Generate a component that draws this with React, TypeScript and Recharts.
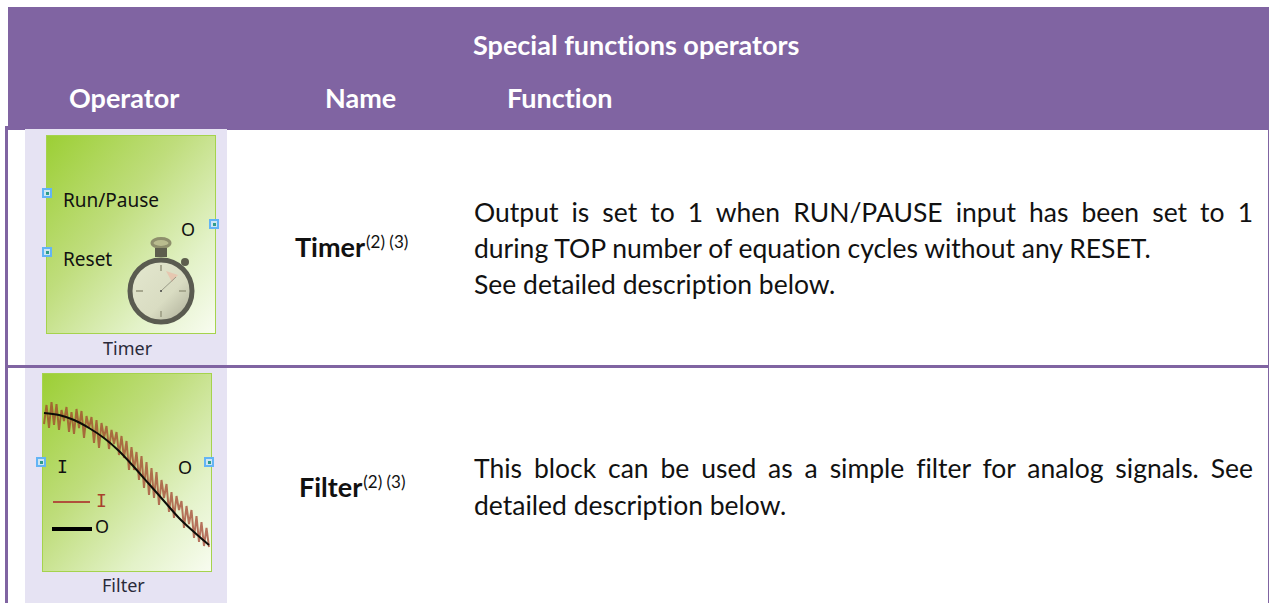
import { LineChart, Line, XAxis, YAxis } from "recharts";

const PURPLE = "#8064A2";
const LAVENDER = "#E6E3F3";
const BLOCK_BG = "linear-gradient(to bottom right, #9ccf35 0%, #bfdd7c 40%, #e3f2c8 75%, #f8fcf0 100%)";
const TEXT_FONT = "Lato, Carlito, sans-serif";
const ICON_FONT = "'Noto Sans', sans-serif";
const SERIF_I_FONT = "'DejaVu Sans Mono', monospace";

const title = "Special functions operators";
const columns = ["Operator", "Name", "Function"];
const timerLines = [
    "Output is set to 1 when RUN/PAUSE input has been set to 1",
    "during TOP number of equation cycles without any RESET.",
    "See detailed description below.",
];
const filterLines = [
    "This block can be used as a simple filter for analog signals. See",
    "detailed description below.",
];

// filter plot, height of the trace above the bottom of the block (px)
const inputSignal = [
    147, 166, 143, 169, 146, 167, 141, 161, 150, 164, 139, 159, 137, 162, 143, 160, 133,
    155, 143, 154, 128, 151, 123, 148, 133, 145, 122, 141, 127, 139, 116, 135, 113, 130,
    101, 124, 101, 119, 91, 115, 83, 109, 76, 103, 73, 99, 66, 91, 73, 87, 59, 79, 53,
    75, 61, 70, 43, 65, 47, 61, 33, 55, 29, 49, 25, 43, 24,
];
const outputSignal = [158, 156, 151, 143, 133, 120, 104, 87, 70, 53, 39, 26];
const OUTPUT_STEP = 6;

const filterData = inputSignal.map((input, i) => ({
    t: i,
    input,
    output: i % OUTPUT_STEP === 0 ? outputSignal[i / OUTPUT_STEP] : null,
}));

function Box({ x, y, w, h, style, children }: any) {
    return (
        <div style={{ position: "absolute", left: x, top: y, width: w, height: h, ...style }}>
            {children}
        </div>
    );
}

// text placed by its vertical centre
function Label({ x, cy, size, bold, color, font, children }: any) {
    return (
        <div
            style={{
                position: "absolute",
                left: x,
                top: cy - 20,
                height: 40,
                lineHeight: "40px",
                fontSize: size,
                fontWeight: bold ? 700 : 400,
                color: color ?? "#111",
                fontFamily: font ?? TEXT_FONT,
                fontVariantLigatures: "none",
                whiteSpace: "nowrap",
            }}
        >
            {children}
        </div>
    );
}

function Justified({ y, last, children }: any) {
    return (
        <div
            style={{
                position: "absolute",
                left: 474,
                width: 779,
                top: y - 20,
                height: 40,
                lineHeight: "40px",
                fontSize: 26.5,
                color: "#111",
                fontFamily: TEXT_FONT,
                fontVariantLigatures: "none",
                textAlign: "justify",
                textAlignLast: last ? "left" : "justify",
            }}
        >
            {children}
        </div>
    );
}

function Port({ x, y }: any) {
    return (
        <Box x={x - 5} y={y - 5} w={10} h={10} style={{ boxSizing: "border-box", border: "2px solid #63b4f5", background: "#cfe6f2" }}>
            <div style={{ position: "absolute", left: 1.5, top: 1.5, width: 3, height: 3, background: "#2f9c8c" }} />
        </Box>
    );
}

function Stopwatch() {
    return (
        <svg width={100} height={100} style={{ position: "absolute", left: 120, top: 230, filter: "blur(0.6px)" }}>
            <defs>
                <linearGradient id="face" x1="0" y1="0" x2="1" y2="1">
                    <stop offset="0" stopColor="#e4e8cf" />
                    <stop offset="0.6" stopColor="#d9dcc2" />
                    <stop offset="1" stopColor="#a9a994" />
                </linearGradient>
            </defs>
            <ellipse cx={41} cy={13} rx={9} ry={4.5} fill="#b9bc8e" stroke="#8e8f6c" strokeWidth={3} />
            <rect x={35} y={18} width={12} height={9} fill="#5d5e4d" />
            <circle cx={65} cy={32} r={4} fill="#5d5e4d" />
            <circle cx={41} cy={61} r={31} fill="url(#face)" stroke="#5a5b50" strokeWidth={5} />
            <path d="M41 35V41M41 81V87M16 61H23M59 61H66" stroke="#a6a78e" strokeWidth={2} />
            <path d="M46 41L58 45L52 52Z" fill="#e6c7b0" />
            <line x1={41} y1={61} x2={56} y2={47} stroke="#9a9b88" strokeWidth={1} />
            <circle cx={41} cy={61} r={1} fill="#444" />
        </svg>
    );
}

function FilterPlot() {
    return (
        <LineChart
            width={168}
            height={198}
            data={filterData}
            margin={{ top: 0, right: 0, bottom: 0, left: 0 }}
            style={{ position: "absolute", left: 43, top: 373, filter: "blur(0.4px)" }}
        >
            <XAxis dataKey="t" type="number" domain={[-0.4, 66.8]} hide />
            <YAxis type="number" domain={[0, 198]} hide />
            <Line
                dataKey="input"
                stroke="#a03a28"
                strokeOpacity={0.7}
                strokeWidth={2}
                dot={false}
                type="linear"
                isAnimationActive={false}
            />
            <Line
                dataKey="output"
                stroke="#0c0c08"
                strokeWidth={2}
                dot={false}
                type="monotone"
                connectNulls
                isAnimationActive={false}
            />
        </LineChart>
    );
}

export default function App() {
    return (
        <div style={{ position: "absolute", left: 0, top: 0, width: 1269, height: 603, overflow: "hidden", background: "#fff" }}>
            {/* table frame */}
            <Box x={8} y={7} w={1261} h={123} style={{ background: PURPLE }} />
            <Box x={5} y={126} w={3} h={477} style={{ background: PURPLE }} />
            <Box x={5} y={365} w={1264} h={3} style={{ background: PURPLE }} />
            <Box x={1268} y={126} w={1} h={477} style={{ background: PURPLE }} />

            <Label x={473} cy={45} size={27} bold color="#fff">{title}</Label>
            <Label x={69} cy={98} size={27} bold color="#fff">{columns[0]}</Label>
            <Label x={325} cy={98} size={27} bold color="#fff">{columns[1]}</Label>
            <Label x={507} cy={98} size={27} bold color="#fff">{columns[2]}</Label>

            {/* timer row */}
            <Box x={25} y={129} w={202} h={236} style={{ background: LAVENDER }} />
            <Box x={46} y={135} w={170} h={199} style={{ boxSizing: "border-box", border: "1.5px solid #a5d34d", background: BLOCK_BG }} />
            <Label x={63} cy={200} size={19} font={ICON_FONT}>Run/Pause</Label>
            <Label x={63} cy={259} size={19} font={ICON_FONT}>Reset</Label>
            <Label x={181} cy={229} size={18} font={ICON_FONT}>O</Label>
            <Label x={103} cy={348} size={18} font={ICON_FONT} color="#2a2a3a">Timer</Label>
            <Port x={47} y={193} />
            <Port x={47} y={252} />
            <Port x={214} y={224} />
            <Stopwatch />

            {/* filter row */}
            <Box x={25} y={368} w={202} h={235} style={{ background: LAVENDER }} />
            <Box x={42} y={373} w={170} h={199} style={{ boxSizing: "border-box", border: "1.5px solid #a5d34d", background: BLOCK_BG }} />
            <FilterPlot />
            <Label x={57} cy={467} size={18} font={SERIF_I_FONT}>I</Label>
            <Label x={178} cy={467} size={18} font={ICON_FONT}>O</Label>
            <Box x={53} y={501} w={37} h={1.5} style={{ background: "#b0503c" }} />
            <Label x={96} cy={501} size={18} color="#a8402c" font={SERIF_I_FONT}>I</Label>
            <Box x={52} y={527} w={40} h={3.5} style={{ background: "#000" }} />
            <Label x={95} cy={526} size={18} font={ICON_FONT}>O</Label>
            <Label x={102} cy={585} size={18} font={ICON_FONT} color="#2a2a3a">Filter</Label>
            <Port x={41} y={462} />
            <Port x={209} y={462} />

            {/* names */}
            <Label x={295} cy={247} size={27} bold>
                Timer
                <span style={{ fontSize: 17, fontWeight: 400, position: "relative", top: -9, marginLeft: 1 }}>(2) (3)</span>
            </Label>
            <Label x={299} cy={487} size={27} bold>
                Filter
                <span style={{ fontSize: 17, fontWeight: 400, position: "relative", top: -9, marginLeft: 1 }}>(2) (3)</span>
            </Label>

            {/* descriptions */}
            {timerLines.map((line, i) => (
                <Justified key={i} y={212 + i * 36} last={i > 0}>{line}</Justified>
            ))}
            {filterLines.map((line, i) => (
                <Justified key={i} y={468 + i * 37} last={i > 0}>{line}</Justified>
            ))}
        </div>
    );
}
